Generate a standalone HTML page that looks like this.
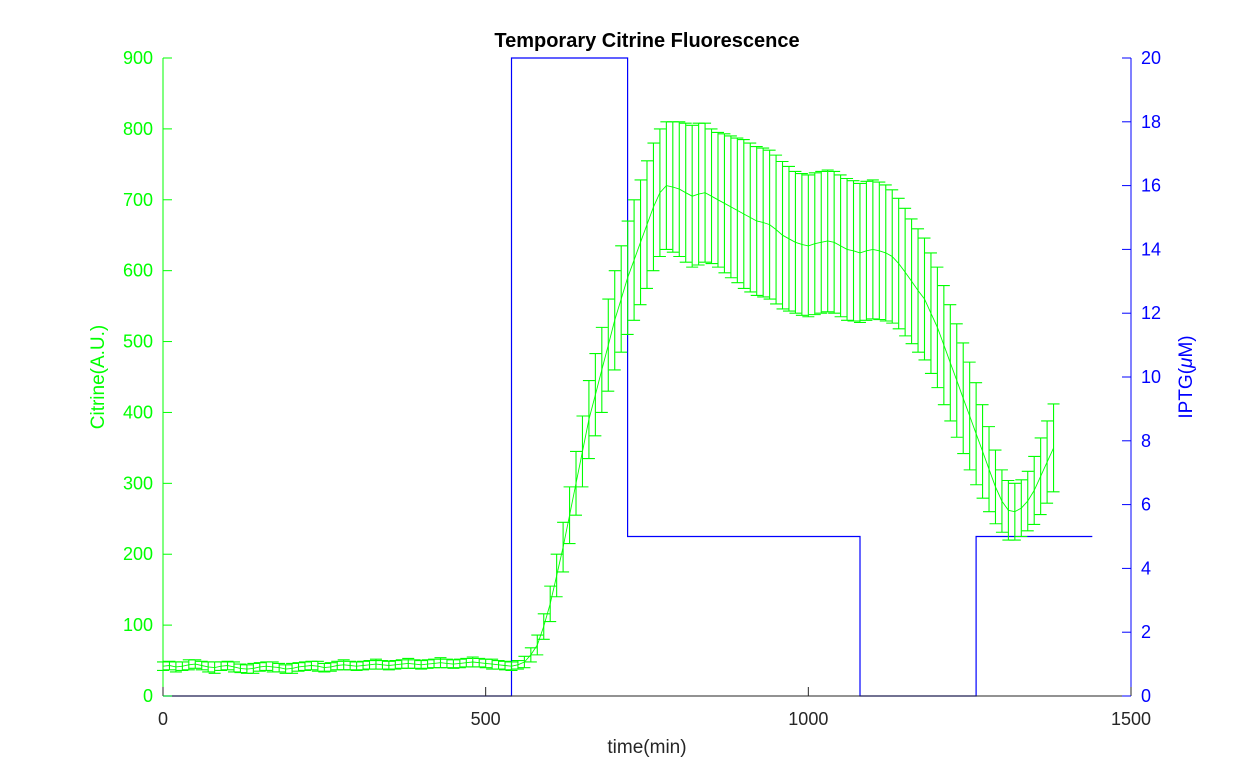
<!DOCTYPE html>
<html><head><meta charset="utf-8">
<style>
html,body{margin:0;padding:0;background:#fff;}
svg{display:block;font-family:"Liberation Sans",Arial,sans-serif;}
</style></head>
<body>
<svg id="chart" width="1250" height="781" viewBox="0 0 1250 781" xmlns="http://www.w3.org/2000/svg">
<rect x="0" y="0" width="1250" height="781" fill="#fff"/>
<text x="647" y="47" text-anchor="middle" font-size="20" font-weight="bold" fill="#000">Temporary Citrine Fluorescence</text>
<g id="iptg"></g>
<g id="citrine"></g>
<g id="axes"></g>
<text x="647" y="753" text-anchor="middle" font-size="19" fill="#262626">time(min)</text>
<text transform="translate(104,377) rotate(-90)" text-anchor="middle" font-size="19" fill="#00ff00">Citrine(A.U.)</text>
<text transform="translate(1192,377) rotate(-90)" text-anchor="middle" font-size="19" fill="#0000ff">IPTG(<tspan font-style="italic">μ</tspan>M)</text>
</svg>
<script>
const xTicks=[0,500,1000,1500];
const yLeftTicks=[0,100,200,300,400,500,600,700,800,900];
const yRightTicks=[0,2,4,6,8,10,12,14,16,18,20];
const citrineMean=[42,43,41,42,44,45,43,41,40,42,43,41,39,38,39,41,42,41,40,38,39,41,42,43,42,40,41,43,44,43,42,43,44,45,44,43,44,45,46,45,44,45,46,47,46,45,46,47,48,47,46,45,44,43,42,
44,48,58,72,98,130,170,210,255,300,345,390,425,460,495,530,560,590,615,640,665,690,710,720,718,715,710,705,708,710,705,700,695,690,685,680,675,670,668,665,658,650,645,640,637,635,638,640,642,640,635,630,628,625,628,630,628,625,620,610,598,585,572,560,540,520,495,470,445,420,395,370,345,320,295,275,262,260,265,275,290,310,330,350];
const citrineErr=[6,6,7,6,7,6,6,7,8,6,6,7,6,6,7,6,6,7,6,6,7,6,6,6,7,6,6,6,7,6,6,6,6,7,6,6,6,6,7,6,6,6,6,7,6,6,6,6,7,6,6,7,6,6,6,
6,8,10,14,18,25,30,35,40,45,50,55,58,60,65,70,75,80,85,88,90,90,90,90,92,95,98,100,100,98,95,95,98,100,102,105,105,105,105,105,105,104,102,100,100,100,100,100,100,100,100,100,99,98,98,98,97,96,94,92,90,88,87,86,85,85,84,82,80,78,76,72,66,60,52,44,42,40,40,42,48,54,58,62];
const timeStep=10;
const iptgTimes=[0,540,540,720,720,1080,1080,1260,1260,1440];
const iptgValues=[0,0,20,20,5,5,0,0,5,5];

const X0=163,X1=1131,Y0=696,Y1=58;
const xs=t=>X0+(t-0)/1500*(X1-X0);
const yl=v=>Y0-v/900*(Y0-Y1);
const yr=v=>Y0-v/20*(Y0-Y1);
const NS="http://www.w3.org/2000/svg";
function mk(tag,attrs,parent){const e=document.createElementNS(NS,tag);for(const k in attrs)e.setAttribute(k,attrs[k]);parent.appendChild(e);return e;}

const ig=document.getElementById('iptg');
let d='';
iptgTimes.forEach((t,i)=>{d+=(i?'L':'M')+xs(t).toFixed(1)+','+yr(iptgValues[i]).toFixed(1);});
const ip=mk('path',{d:d,fill:'none',stroke:'#0000ff','stroke-width':1.2},ig);



const cg=document.getElementById('citrine');
const cap=6;
let md='';
citrineMean.forEach((m,i)=>{
  const t=i*timeStep;
  const x=xs(t), yu=yl(m+citrineErr[i]), yd=yl(m-citrineErr[i]);
  const bar=mk('path',{d:`M${x},${yu}L${x},${yd}M${x-cap},${yu}L${x+cap},${yu}M${x-cap},${yd}L${x+cap},${yd}`,stroke:'#00ff00','stroke-width':1.1,fill:'none'},cg);
  
  
  md+=(i?'L':'M')+x.toFixed(1)+','+yl(m).toFixed(1);
});
const ml=mk('path',{d:md,fill:'none',stroke:'#00ff00','stroke-width':0.9},cg);



const ag=document.getElementById('axes');
const xa=mk('line',{x1:X0,y1:Y0,x2:X1,y2:Y0,stroke:'#262626','stroke-width':1},ag);


const la=mk('line',{x1:X0,y1:Y0,x2:X0,y2:Y1,stroke:'#00ff00','stroke-width':1},ag);


const ra=mk('line',{x1:X1,y1:Y0,x2:X1,y2:Y1,stroke:'#0000ff','stroke-width':1},ag);


xTicks.forEach(v=>{
  const x=xs(v);
  const tk=mk('line',{x1:x,y1:Y0,x2:x,y2:Y0-9,stroke:'#262626'},ag);
  
  
  const tx=mk('text',{x:x,y:Y0+29,'text-anchor':'middle','font-size':18,fill:'#262626'},ag);
  tx.textContent=v;
  
  
});
yLeftTicks.forEach(v=>{
  const y=yl(v);
  const tk=mk('line',{x1:X0,y1:y,x2:X0+9,y2:y,stroke:'#00ff00'},ag);
  
  
  const tx=mk('text',{x:X0-10,y:y+6,'text-anchor':'end','font-size':18,fill:'#00ff00'},ag);
  tx.textContent=v;
  
  
});
yRightTicks.forEach(v=>{
  const y=yr(v);
  const tk=mk('line',{x1:X1,y1:y,x2:X1-9,y2:y,stroke:'#0000ff'},ag);
  
  
  const tx=mk('text',{x:X1+10,y:y+6,'text-anchor':'start','font-size':18,fill:'#0000ff'},ag);
  tx.textContent=v;
  
  
});
</script>
</body></html>
